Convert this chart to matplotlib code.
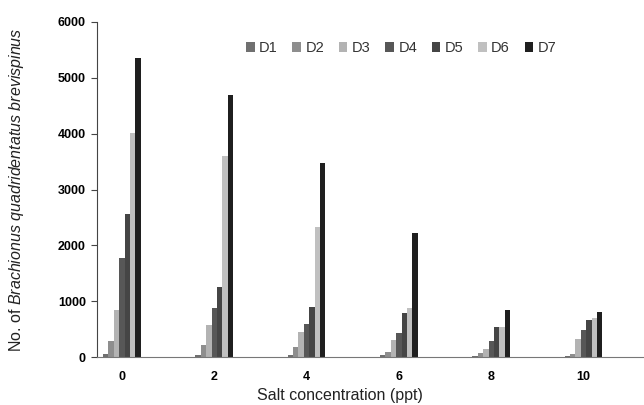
import matplotlib
matplotlib.use("Agg")
import matplotlib.pyplot as plt
import numpy as np

salt = ["0", "2", "4", "6", "8", "10"]
series = ["D1", "D2", "D3", "D4", "D5", "D6", "D7"]

d1 = [50, 30, 35, 35, 20, 20]
d2 = [290, 215, 185, 95, 80, 60]
d3 = [840, 575, 455, 305, 150, 330]
d4 = [1770, 870, 600, 425, 290, 480]
d5 = [2555, 1260, 900, 785, 540, 660]
d6 = [4005, 3600, 2335, 875, 545, 700]
d7 = [5350, 4690, 3470, 2215, 840, 800]

colors = ["#707070", "#8e8e8e", "#b3b3b3", "#575757", "#454545", "#c0c0c0", "#1f1f1f"]

plt.rcParams["font.family"] = ["Liberation Sans", "DejaVu Sans"]
plt.rcParams["mathtext.fontset"] = "custom"
plt.rcParams["mathtext.it"] = "Liberation Sans:italic"
plt.rcParams["mathtext.rm"] = "Liberation Sans"

fig = plt.figure(figsize=(6.44, 4.05), dpi=100)
ax = fig.add_axes([97 / 644, 1 - 357 / 405, 547 / 644, 335 / 405])

x = np.arange(len(salt))
width = 0.0585
values = [d1, d2, d3, d4, d5, d6, d7]
for i, (name, vals) in enumerate(zip(series, values)):
	ax.bar(x + (i - 3) * width, vals, width, color=colors[i], label=name, linewidth=0)

ax.set_xlim(-0.27, 5.655)
ax.set_ylim(0, 6000)
ax.set_yticks(range(0, 6001, 1000))
ax.set_xticks(x)
ax.set_xticklabels(salt)

for label in ax.get_xticklabels() + ax.get_yticklabels():
	label.set_fontweight("bold")
	label.set_fontsize(9)

ax.tick_params(axis="x", length=0, pad=10)
ax.tick_params(axis="y", length=4, direction="out", pad=4, color="#444444")

for side in ["top", "right"]:
	ax.spines[side].set_visible(False)
ax.spines["left"].set_color("#444444")
ax.spines["bottom"].set_color("#777777")

ax.set_ylabel("No. of $\\it{Brachionus\\ quadridentatus\\ brevispinus}$", fontsize=11.5, color="#222222")
ax.yaxis.set_label_coords(-0.13, 0.5)
ax.set_xlabel("Salt concentration (ppt)", fontsize=11.5, color="#222222")
ax.xaxis.set_label_coords(0.444, -0.093)

ax.legend(
	loc="center",
	bbox_to_anchor=(0.556, 0.922),
	ncol=7,
	frameon=False,
	fontsize=10.5,
	handlelength=0.6,
	handleheight=0.6,
	handletextpad=0.3,
	columnspacing=1.0,
	labelcolor="#333333",
)

fig.savefig("out.png", dpi=100)
